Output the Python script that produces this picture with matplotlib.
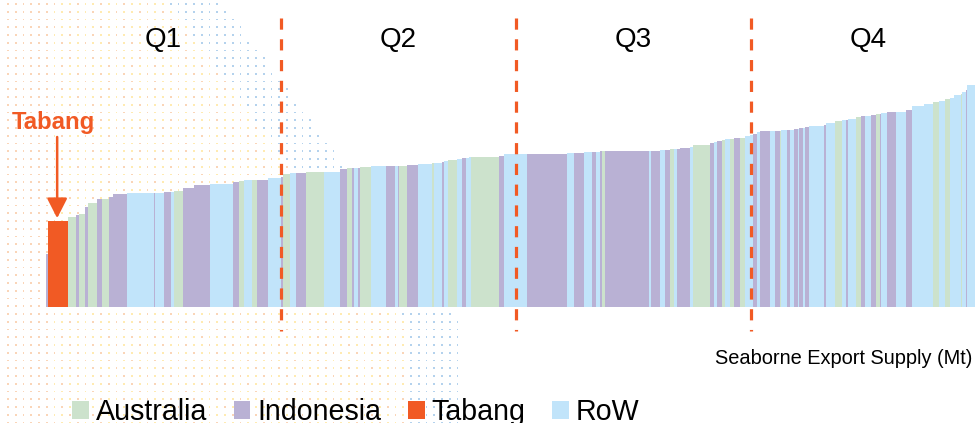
import numpy as np
import matplotlib
matplotlib.use('Agg')
import matplotlib.pyplot as plt
from matplotlib.patches import Patch

plt.rcParams['font.family'] = ['Liberation Sans', 'DejaVu Sans']

# couleurs par origine
couleurs = {'A': '#cce2cc', 'I': '#b9b1d4', 'T': '#f15a24', 'R': '#c1e4fa'}
orange = '#f15a24'

# courbe de coût : origine, volume (Mt), coût (unités relatives)
origine = ['I', 'T', 'A', 'I', 'A', 'I', 'A', 'I', 'A', 'I', 'I', 'R', 'I', 'R', 'I', 'R', 'A', 'I', 'I', 'R',
           'I', 'A', 'R', 'A', 'I', 'R', 'I',
           'A', 'R', 'I', 'A', 'R', 'I', 'A', 'I', 'R', 'I', 'A', 'R', 'I', 'R', 'I', 'A', 'I', 'R', 'A', 'R',
           'I', 'R', 'A', 'R', 'I', 'R', 'R', 'A', 'I', 'R',
           'I', 'R', 'I', 'R', 'I', 'R', 'I', 'A', 'I', 'R', 'I', 'R', 'I', 'A', 'R', 'I', 'I', 'R', 'A', 'I',
           'R', 'I', 'I', 'A', 'R', 'A', 'I', 'A', 'R', 'R',
           'I', 'R', 'I', 'R', 'I', 'A', 'R', 'I', 'R', 'I', 'R', 'I', 'R', 'I', 'R', 'I', 'R', 'A', 'R', 'I',
           'R', 'A', 'I', 'R', 'I', 'A', 'I', 'R', 'I', 'R', 'I', 'R', 'R', 'A', 'R', 'A', 'R', 'R', 'A', 'R',
           'I', 'R']
volume = [1.0, 8.3, 3.4, 1.4, 2.6, 1.0, 4.1, 2.1, 3.0, 1.8, 5.7, 11.7, 0.3, 3.8, 3.0, 1.4, 3.6, 4.8, 6.8, 9.9,
          2.6, 2.1, 3.4, 2.1, 4.7, 5.4, 0.7,
          3.1, 2.6, 4.1, 7.9, 6.7, 3.0, 2.1, 0.9, 1.7, 0.9, 4.7, 6.3, 4.0, 1.0, 0.6, 3.4, 4.5, 6.1, 0.7, 3.6,
          0.7, 1.7, 3.7, 2.4, 1.8, 1.0, 1.1, 11.6, 2.1, 10.0,
          17.0, 3.1, 4.3, 3.4, 1.4, 1.7, 1.1, 1.3, 18.4, 1.0, 4.0, 2.1, 2.1, 1.8, 1.0, 1.4, 4.3, 1.4, 7.1, 1.7,
          1.4, 0.9, 0.9, 1.6, 2.1, 1.7, 2.6, 1.8, 2.4, 1.0,
          1.9, 1.1, 4.3, 2.1, 2.1, 0.7, 2.4, 1.1, 1.7, 1.7, 0.7, 1.4, 0.9, 2.0, 6.4, 0.9, 3.8, 2.6, 2.1, 0.6,
          3.3, 2.4, 1.4, 2.6, 2.1, 1.8, 0.6, 2.6, 3.8, 4.3, 2.3, 5.2, 4.0, 2.4, 2.4, 2.3, 1.7, 2.9, 0.4, 1.7,
          0.7, 3.5]
cout = [26.5, 43.2, 44.9, 46.0, 46.5, 50.2, 52.2, 53.9, 53.9, 54.9, 56.5, 57.0, 57.0, 57.0, 57.4, 57.7, 58.0,
        59.4, 61.0, 61.4, 62.4, 63.2, 63.4, 63.5, 63.5, 64.4, 64.9,
        66.5, 66.8, 66.8, 67.3, 67.7, 68.9, 69.4, 69.4, 69.4, 69.7, 69.9, 70.4, 70.7, 70.7, 70.7, 70.7, 70.9,
        71.5, 71.8, 72.2, 72.5, 72.9, 73.4, 74.2, 74.4, 74.5, 74.9, 75.2, 75.7, 76.5,
        76.5, 77.0, 77.2, 77.4, 77.5, 77.7, 77.9, 77.9, 77.9, 78.0, 78.2, 78.4, 78.5, 78.9, 79.0, 79.2, 79.5,
        80.2, 80.9, 81.9, 82.4, 82.8, 83.0, 83.4, 83.9, 84.0, 84.5, 84.7, 85.3, 86.0,
        86.5, 87.5, 88.0, 88.0, 88.0, 88.0, 88.4, 88.5, 88.7, 89.0, 89.2, 89.4, 89.5, 89.9, 90.7, 91.0, 92.2,
        93.2, 93.5, 93.7, 93.9, 95.2, 95.5, 95.7, 96.2, 96.5, 96.7, 96.9, 97.7, 97.7, 98.5, 100.5, 101.5,
        102.4, 103.2, 103.9, 104.5, 105.9, 106.5, 107.5, 108.5, 111.0]

# quartiles
limites_q = [100, 200, 300]
centres_q = [50, 150, 250, 350]
noms_q = ['Q1', 'Q2', 'Q3', 'Q4']

legende = [('A', 'Australia'), ('I', 'Indonesia'), ('T', 'Tabang'), ('R', 'RoW')]

fig = plt.figure(figsize=(9.75, 4.23), dpi=100)

# fond décoratif en trame de points (bord en diagonale)
fond = fig.add_axes([0, 0, 1, 1], zorder=0)
fond.set_xlim(0, 975)
fond.set_ylim(423, 0)
fond.axis('off')
px, py = np.meshgrid(np.arange(8, 470, 7.75), np.arange(4, 423, 7.75))
px = px.ravel()
py = py.ravel()
bord = np.minimum(222 + 0.74 * py, 465)
dedans = px < bord
px, py, bord = px[dedans], py[dedans], bord[dedans]
k = np.arange(len(px))
col = np.where((k % 3 == 0) | (px < 50), '#f7ad72', '#ffd866')
col = np.where(px > bord - 55, '#6aa6dc', col)
fond.scatter(px, py, s=1.5, marker='s', c=col, alpha=0.5, linewidths=0)

ax = fig.add_axes([46 / 975, 116 / 423, 929 / 975, 307 / 423], zorder=1)
gauche = np.concatenate([[0], np.cumsum(volume)[:-1]])
ax.bar(gauche, cout, width=volume, align='edge',
       color=[couleurs[o] for o in origine], linewidth=0)
ax.set_xlim(0, 395.3)
ax.set_ylim(0, 153.5)
ax.axis('off')

for q in limites_q:
    ax.plot([q, q], [144.5, -12], color=orange, lw=2.3, dashes=(3.5, 3.0),
            clip_on=False, solid_capstyle='butt', dash_capstyle='butt')
for c, n in zip(centres_q, noms_q):
    ax.text(c, 133.5, n, ha='center', va='center', fontsize=20, color='black')

# flèche Tabang
i_t = origine.index('T')
x_t = gauche[i_t] + volume[i_t] / 2
ax.annotate('', xy=(x_t - 0.4, cout[i_t] + 1.2), xytext=(x_t - 0.4, 85),
            arrowprops=dict(arrowstyle='-|>,head_length=0.55,head_width=0.28',
                            color=orange, lw=1.8, mutation_scale=22, shrinkA=0, shrinkB=0))
ax.text(x_t - 2.0, 92.5, 'Tabang', ha='center', va='center', fontsize=17.2,
        fontweight='bold', color=orange)

fig.text(972 / 975, 1 - 358 / 423, 'Seaborne Export Supply (Mt)', ha='right', va='center',
         fontsize=14.4, color='black')

poignees = [Patch(facecolor=couleurs[c], edgecolor='none', label=l) for c, l in legende]
fig.legend(handles=poignees, loc='lower left', bbox_to_anchor=(72 / 975, -0.008),
           ncol=4, frameon=False, fontsize=20.6, handlelength=0.58, handleheight=0.58,
           handletextpad=0.25, columnspacing=0.93, borderpad=0, borderaxespad=0)

fig.savefig('out.png', dpi=100)
